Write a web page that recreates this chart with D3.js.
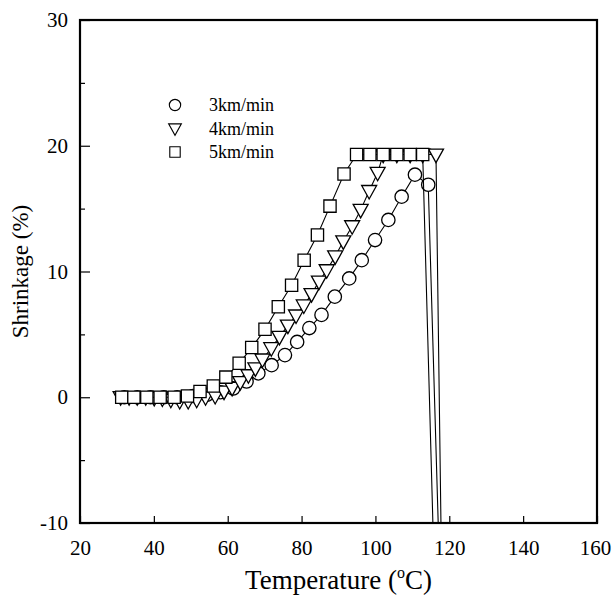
<!DOCTYPE html>
<html>
<head>
<meta charset="utf-8">
<script src="https://cdn.jsdelivr.net/npm/d3@7"></script>
<style>
  body { margin: 0; background: #fff; }
  svg text { font-family: "Liberation Serif", "Times New Roman", Times, "DejaVu Serif", serif !important; fill: #000; }
</style>
</head>
<body>
<script>
var w = 613;
var h = 596;
var margin = { left: 80, right: 16, top: 20, bottom: 73 };
var serifFont = "'Liberation Serif', 'Times New Roman', Times, 'DejaVu Serif', serif";

// series values (temperature degC, shrinkage %)
var t3 = [32.0, 35.5, 39.1, 42.7, 46.3, 50.6, 54.4, 58.0, 61.5, 65.1, 68.3, 71.9, 75.5, 78.8, 82.1, 85.4, 89.0, 92.9, 96.3, 99.9, 103.5, 107.1, 110.7, 114.3, 118.0];
var s3 = [0, 0, 0, 0, 0, 0.1, 0.2, 0.4, 0.7, 1.25, 1.9, 2.55, 3.35, 4.4, 5.5, 6.55, 8.0, 9.45, 10.9, 12.5, 14.1, 15.95, 17.7, 16.9, -20];

var t4 = [31.0, 33.3, 35.5, 37.8, 40.1, 42.3, 44.6, 47.0, 49.3, 51.6, 54.0, 56.6, 59.0, 61.2, 63.4, 65.6, 67.5, 69.4, 71.8, 74.0, 76.3, 78.5, 80.6, 82.7, 84.7, 86.8, 89.1, 91.3, 93.7, 96.0, 98.3, 100.6, 102.1, 105.8, 109.4, 112.8, 116.4, 118.2];
var s4 = [0, 0, 0, 0, -0.05, -0.1, -0.2, -0.3, -0.3, -0.2, 0, 0.1, 0.45, 0.75, 1.2, 1.75, 2.3, 3.0, 3.9, 4.8, 5.7, 6.5, 7.3, 8.2, 9.2, 10.1, 11.2, 12.4, 13.6, 14.9, 16.4, 17.85, 19.3, 19.3, 19.3, 19.3, 19.3, -20];

var t5 = [31.3, 34.6, 38.1, 41.7, 45.5, 49.1, 52.5, 56.1, 59.5, 63.1, 66.5, 70.1, 73.7, 77.3, 80.7, 84.3, 87.7, 91.5, 94.9, 98.5, 102.1, 105.8, 109.4, 112.8, 116.5];
var s5 = [0, 0, 0, 0, 0, 0.1, 0.45, 0.9, 1.6, 2.7, 3.95, 5.4, 7.2, 8.9, 10.9, 12.9, 15.2, 17.75, 19.3, 19.3, 19.3, 19.3, 19.3, 19.3, -20];

var seriesNames = ["3km/min", "4km/min", "5km/min"];
var seriesShapes = ["circle", "triangle", "square"];
var xTicks = [20, 40, 60, 80, 100, 120, 140, 160];
var yTicks = [-10, 0, 10, 20, 30];
var yMinor = [-5, 5, 15, 25];

var svg = d3.select("body")
    .append("svg")
    .attr("width", w)
    .attr("height", h)
    .style("font-family", serifFont);

var xScale = d3.scaleLinear()
    .domain([20, 160])
    .range([margin.left, w - margin.right]);

var yScale = d3.scaleLinear()
    .domain([-10, 30])
    .range([h - margin.bottom, margin.top]);

svg.append("clipPath")
    .attr("id", "plotclip")
    .append("rect")
    .attr("x", margin.left)
    .attr("y", margin.top)
    .attr("width", w - margin.left - margin.right)
    .attr("height", h - margin.top - margin.bottom);

function symbolPath(shape) {
    if (shape == "circle") return d3.symbol().type(d3.symbolCircle).size(140)();
    if (shape == "square") return d3.symbol().type(d3.symbolSquare).size(150)();
    // downward triangle
    return "M-7.5,-5.5L7.5,-5.5L0,8Z";
}

var series = [
    { name: seriesNames[0], shape: seriesShapes[0], pts: t3.map((t, i) => [t, s3[i]]) },
    { name: seriesNames[1], shape: seriesShapes[1], pts: t4.map((t, i) => [t, s4[i]]) },
    { name: seriesNames[2], shape: seriesShapes[2], pts: t5.map((t, i) => [t, s5[i]]) }
];

var line = d3.line()
    .x(d => xScale(d[0]))
    .y(d => yScale(d[1]));

var plot = svg.append("g").attr("clip-path", "url(#plotclip)");

series.forEach(function (s) {
    var g = plot.append("g");
    g.append("path")
        .datum(s.pts)
        .attr("d", line)
        .attr("fill", "none")
        .attr("stroke", "#000")
        .attr("stroke-width", 1.1);
    g.selectAll("path.mark")
        .data(s.pts.filter(d => d[1] >= -10))
        .join("path")
        .attr("class", "mark")
        .attr("d", symbolPath(s.shape))
        .attr("transform", d => "translate(" + xScale(d[0]) + "," + yScale(d[1]) + ")")
        .attr("fill", "#fff")
        .attr("stroke", "#000")
        .attr("stroke-width", 1.3);
});

// axes: ticks inward on left and bottom
var xAxis = d3.axisBottom(xScale).tickValues(xTicks).tickSize(-7).tickPadding(17).tickFormat(d => String(d));
var yAxis = d3.axisLeft(yScale).tickValues(yTicks).tickSize(-10).tickPadding(12).tickFormat(d => String(d));

var gx = svg.append("g")
    .attr("transform", "translate(0," + (h - margin.bottom) + ")")
    .call(xAxis);
var gy = svg.append("g")
    .attr("transform", "translate(" + margin.left + ",0)")
    .call(yAxis);

svg.append("g")
    .attr("transform", "translate(" + margin.left + ",0)")
    .call(d3.axisLeft(yScale).tickValues(yMinor).tickSize(-5).tickFormat(""))
    .select(".domain").remove();

[gx, gy].forEach(function (g) {
    g.attr("font-family", null);
    g.select(".domain").remove();
    g.selectAll(".tick text")
        .style("font-family", serifFont)
        .attr("font-size", "21px");
});
// keep the last x label inside the page
gx.selectAll(".tick text").filter(d => d == 160).attr("dx", "-2");
svg.selectAll(".tick line").attr("stroke", "#000").attr("stroke-width", 1.2);

// frame
svg.append("rect")
    .attr("x", margin.left)
    .attr("y", margin.top)
    .attr("width", w - margin.left - margin.right)
    .attr("height", h - margin.top - margin.bottom)
    .attr("fill", "none")
    .attr("stroke", "#000")
    .attr("stroke-width", 2.2);

// axis titles
var xt = svg.append("text")
    .attr("x", (margin.left + w - margin.right) / 2)
    .attr("y", 589)
    .attr("text-anchor", "middle")
    .style("font-family", serifFont)
    .attr("font-size", "27px");
xt.append("tspan").text("Temperature (");
xt.append("tspan").attr("font-size", "16px").attr("dy", "-11").text("o");
xt.append("tspan").attr("dy", "11").text("C)");

svg.append("text")
    .attr("transform", "translate(28," + yScale(10) + ") rotate(-90)")
    .attr("text-anchor", "middle")
    .style("font-family", serifFont)
    .attr("font-size", "23px")
    .text("Shrinkage (%)");

// legend
var legend = svg.append("g");
series.forEach(function (s, i) {
    var ly = 105 + i * 23.5;
    legend.append("path")
        .attr("d", symbolPath(s.shape))
        .attr("transform", "translate(175," + ly + ") scale(0.85)")
        .attr("fill", "#fff")
        .attr("stroke", "#000")
        .attr("stroke-width", 1.3);
    legend.append("text")
        .attr("x", 209)
        .attr("y", ly + 6)
        .style("font-family", serifFont)
        .attr("font-size", "18px")
        .text(s.name);
});
</script>
</body>
</html>
